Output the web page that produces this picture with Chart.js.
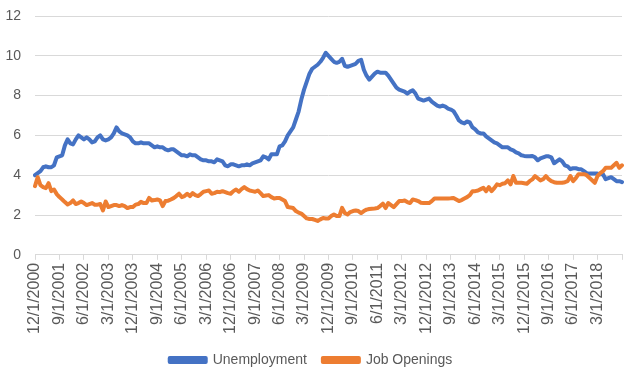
<!DOCTYPE html>
<html lang="en">

<head>
    <meta charset="UTF-8">
    <title>Unemployment vs Job Openings</title>
    <script src="https://cdn.jsdelivr.net/npm/chart.js"></script>
    <style>
        html, body {
            margin: 0;
            padding: 0;
            background: #fff;
        }

        #chart-container {
            width: 631px;
            height: 373px;
        }
    </style>
</head>

<body>
    <div id="chart-container">
        <canvas id="rates-chart"></canvas>
    </div>

    <script>
        // monthly categories, 12/1/2000 .. 12/1/2018
        const categories = [];
        for (let i = 0; i <= 216; i++) {
            const m = (11 + i) % 12 + 1;
            const y = 2000 + Math.floor((11 + i) / 12);
            categories.push(m + '/1/' + y);
        }

        // unemployment rate (%), one row per year
        const unemployment = [
            4.0,
            4.1, 4.2, 4.4, 4.45, 4.4, 4.4, 4.5, 4.9, 4.95, 5.0, 5.5, 5.8,          // 2001
            5.6, 5.55, 5.8, 6.0, 5.9, 5.8, 5.9, 5.8, 5.65, 5.7, 5.9, 6.0,          // 2002
            5.8, 5.75, 5.8, 5.9, 6.1, 6.4, 6.2, 6.1, 6.05, 6.0, 5.9, 5.7,          // 2003
            5.6, 5.6, 5.65, 5.6, 5.6, 5.6, 5.5, 5.4, 5.45, 5.4, 5.4, 5.3,          // 2004
            5.25, 5.3, 5.3, 5.2, 5.1, 5.0, 5.0, 4.95, 5.05, 5.0, 5.0, 4.9,         // 2005
            4.8, 4.75, 4.75, 4.7, 4.7, 4.65, 4.8, 4.75, 4.7, 4.5, 4.45, 4.55,      // 2006
            4.55, 4.5, 4.45, 4.5, 4.5, 4.55, 4.5, 4.6, 4.65, 4.7, 4.75, 4.95,      // 2007
            4.9, 4.8, 5.05, 5.05, 5.05, 5.45, 5.5, 5.7, 6.0, 6.2, 6.4, 6.8,        // 2008
            7.2, 7.8, 8.3, 8.7, 9.1, 9.35, 9.45, 9.55, 9.7, 9.9, 10.15, 10.0,      // 2009
            9.85, 9.7, 9.65, 9.7, 9.85, 9.5, 9.45, 9.5, 9.55, 9.6, 9.75, 9.8,      // 2010
            9.3, 9.0, 8.8, 8.95, 9.1, 9.2, 9.15, 9.15, 9.15, 9.0, 8.8, 8.6,        // 2011
            8.4, 8.3, 8.25, 8.2, 8.1, 8.2, 8.27, 8.1, 7.85, 7.8, 7.75, 7.8,        // 2012
            7.85, 7.7, 7.6, 7.5, 7.45, 7.5, 7.45, 7.35, 7.3, 7.22, 7.0, 6.75,      // 2013
            6.65, 6.6, 6.7, 6.65, 6.4, 6.3, 6.15, 6.1, 6.1, 5.95, 5.85, 5.75,      // 2014
            5.65, 5.6, 5.5, 5.4, 5.4, 5.4, 5.3, 5.25, 5.15, 5.1, 5.0, 4.97,        // 2015
            4.95, 4.95, 4.97, 4.9, 4.75, 4.85, 4.9, 4.95, 4.95, 4.9, 4.6, 4.7,     // 2016
            4.8, 4.7, 4.5, 4.45, 4.3, 4.35, 4.35, 4.3, 4.3, 4.2, 4.1, 4.08,        // 2017
            4.08, 4.08, 4.08, 4.05, 4.05, 3.8, 3.85, 3.9, 3.8, 3.7, 3.7, 3.65      // 2018
        ];

        // job openings rate (%), one row per year
        const jobOpenings = [
            3.45,
            3.9, 3.5, 3.4, 3.35, 3.6, 3.2, 3.28, 3.05, 2.9, 2.78, 2.65, 2.53,      // 2001
            2.6, 2.73, 2.55, 2.6, 2.68, 2.6, 2.5, 2.55, 2.6, 2.52, 2.52, 2.55,     // 2002
            2.23, 2.68, 2.4, 2.45, 2.5, 2.5, 2.45, 2.5, 2.45, 2.35, 2.4, 2.4,      // 2003
            2.52, 2.55, 2.66, 2.6, 2.6, 2.86, 2.73, 2.75, 2.78, 2.73, 2.45, 2.7,   // 2004
            2.72, 2.78, 2.85, 2.95, 3.07, 2.9, 2.95, 3.07, 2.95, 3.1, 3.0, 2.95,   // 2005
            3.05, 3.17, 3.2, 3.23, 3.07, 3.1, 3.17, 3.15, 3.2, 3.15, 3.1, 3.07,    // 2006
            3.2, 3.28, 3.17, 3.3, 3.4, 3.3, 3.23, 3.2, 3.17, 3.23, 3.1, 2.95,      // 2007
            2.98, 3.0, 2.9, 2.83, 2.85, 2.86, 2.78, 2.7, 2.4, 2.38, 2.35, 2.2,     // 2008
            2.12, 2.07, 1.95, 1.83, 1.8, 1.8, 1.75, 1.7, 1.78, 1.85, 1.83, 1.83,   // 2009
            1.95, 2.03, 1.95, 1.95, 2.36, 2.1, 2.03, 2.15, 2.2, 2.23, 2.2, 2.1,    // 2010
            2.2, 2.27, 2.3, 2.32, 2.33, 2.35, 2.45, 2.57, 2.35, 2.6, 2.5, 2.4,     // 2011
            2.55, 2.7, 2.7, 2.73, 2.65, 2.6, 2.78, 2.75, 2.7, 2.62, 2.6, 2.6,      // 2012
            2.6, 2.7, 2.83, 2.83, 2.83, 2.83, 2.83, 2.83, 2.84, 2.86, 2.78, 2.7,   // 2013
            2.75, 2.83, 2.9, 3.0, 3.2, 3.2, 3.23, 3.3, 3.37, 3.2, 3.4, 3.2,        // 2014
            3.35, 3.54, 3.5, 3.57, 3.6, 3.74, 3.54, 3.96, 3.62, 3.62, 3.62, 3.6,   // 2015
            3.57, 3.7, 3.79, 3.96, 3.85, 3.74, 3.8, 3.96, 3.8, 3.7, 3.65, 3.62,    // 2016
            3.62, 3.62, 3.65, 3.7, 3.96, 3.7, 3.85, 4.05, 4.05, 4.05, 4.0, 3.87,   // 2017
            3.75, 3.62, 3.96, 4.1, 4.2, 4.37, 4.37, 4.37, 4.5, 4.62, 4.37, 4.5     // 2018
        ];

        const yTicks = [0, 2, 4, 6, 8, 10, 12];
        const labelEvery = 9;   // a date label every 9 months

        const textColor = '#595959';
        const gridColor = '#d9d9d9';
        const fontFamily = '"Liberation Sans", Arial, sans-serif';

        const ctx = document.getElementById('rates-chart').getContext('2d');

        const myChart = new Chart(ctx, {
            type: 'line',
            data: {
                labels: categories,
                datasets: [
                    {
                        label: 'Unemployment',
                        data: unemployment,
                        borderColor: '#4472C4',
                        backgroundColor: '#4472C4',
                        borderWidth: 4,
                        pointRadius: 0,
                        borderJoinStyle: 'round',
                        borderCapStyle: 'round',
                        tension: 0,
                        order: 1
                    },
                    {
                        label: 'Job Openings',
                        data: jobOpenings,
                        borderColor: '#ED7D31',
                        backgroundColor: '#ED7D31',
                        borderWidth: 4,
                        pointRadius: 0,
                        borderJoinStyle: 'round',
                        borderCapStyle: 'round',
                        tension: 0,
                        order: 0
                    }
                ]
            },
            options: {
                responsive: true,
                maintainAspectRatio: false,
                animation: false,
                layout: {
                    padding: { top: 16, right: 9, left: 0, bottom: 0 }
                },
                scales: {
                    x: {
                        type: 'category',
                        offset: false,
                        afterBuildTicks: axis => {
                            axis.ticks = axis.ticks.filter(t => t.value % labelEvery === 0);
                        },
                        afterFit: axis => {
                            axis.paddingRight = 0;
                        },
                        ticks: {
                            autoSkip: false,
                            maxRotation: 90,
                            minRotation: 90,
                            padding: 3,
                            color: textColor,
                            font: { family: fontFamily, size: 16 },
                            callback: function (value) {
                                return value >= 216 ? '' : categories[value];
                            }
                        },
                        grid: {
                            drawOnChartArea: false,
                            drawTicks: true,
                            tickLength: 5,
                            color: gridColor
                        },
                        border: { display: true, color: gridColor, width: 1 }
                    },
                    y: {
                        min: 0,
                        max: 12,
                        afterFit: axis => {
                            axis.width = 35;
                            axis.paddingTop = 0;
                            axis.paddingBottom = 0;
                        },
                        afterBuildTicks: axis => {
                            axis.ticks = yTicks.map(v => ({ value: v }));
                        },
                        ticks: {
                            padding: 14,
                            color: textColor,
                            font: { family: fontFamily, size: 14 }
                        },
                        grid: {
                            color: gridColor,
                            drawTicks: false
                        },
                        border: { display: false }
                    }
                },
                plugins: {
                    tooltip: { enabled: false },
                    legend: {
                        position: 'bottom',
                        maxHeight: 36,
                        labels: {
                            boxWidth: 36,
                            boxHeight: 4,
                            padding: 16,
                            color: textColor,
                            font: { family: fontFamily, size: 14 },
                            sort: (a, b) => a.datasetIndex - b.datasetIndex
                        }
                    }
                }
            }
        });
    </script>
</body>

</html>
